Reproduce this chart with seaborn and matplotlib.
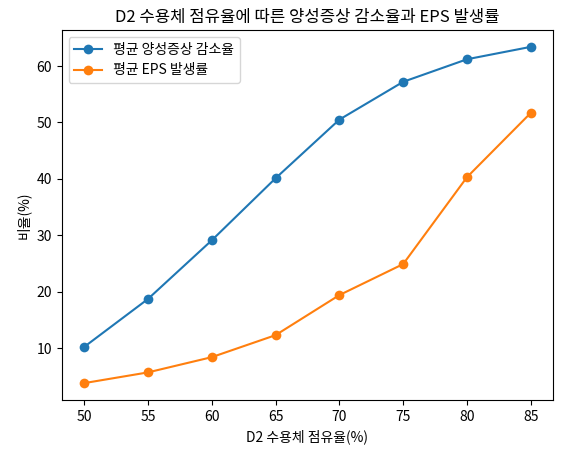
import matplotlib
matplotlib.use("Agg")
import matplotlib.pyplot as plt
import seaborn as sns
import pandas as pd

occupancy = [50, 55, 60, 65, 70, 75, 80, 85]
symptom_reduction = [10.2, 18.7, 29.1, 40.1, 50.5, 57.2, 61.2, 63.4]
eps_rate = [3.8, 5.7, 8.4, 12.3, 19.4, 24.9, 40.3, 51.7]

plt.rcParams['font.family'] = ['Noto Sans CJK KR', 'DejaVu Sans']
plt.rcParams['axes.unicode_minus'] = False

fig, ax = plt.subplots(figsize=(5.61, 4.55), dpi=100)
df = pd.DataFrame({"x": occupancy, "a": symptom_reduction, "b": eps_rate})
sns.lineplot(data=df, x="x", y="a", marker="o", markersize=7, markeredgewidth=0,
             color="#1f77b4", label="평균 양성증상 감소율", ax=ax)
sns.lineplot(data=df, x="x", y="b", marker="o", markersize=7, markeredgewidth=0,
             color="#ff7f0e", label="평균 EPS 발생률", ax=ax)
ax.set_title("D2 수용체 점유율에 따른 양성증상 감소율과 EPS 발생률")
ax.set_xlabel("D2 수용체 점유율(%)")
ax.set_ylabel("비율(%)")
ax.legend(loc="upper left")
fig.subplots_adjust(left=0.110, right=0.986, top=0.934, bottom=0.121)
fig.savefig("out.png", dpi=100)
